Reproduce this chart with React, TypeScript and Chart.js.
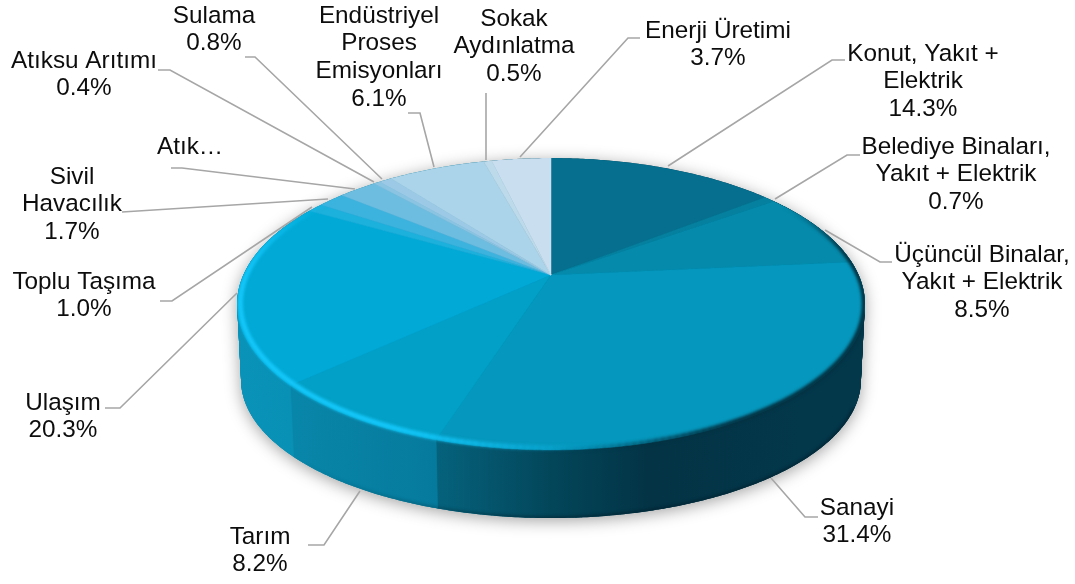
import React, { useEffect, useRef } from "react";
import { Chart, registerables } from "chart.js";

Chart.register(...registerables);

// ---- data ----
const categories = [
  "Konut, Yakıt + Elektrik",
  "Belediye Binaları, Yakıt + Elektrik",
  "Üçüncül Binalar, Yakıt + Elektrik",
  "Sanayi",
  "Tarım",
  "Ulaşım",
  "Toplu Taşıma",
  "Sivil Havacılık",
  "Atık…",
  "Atıksu Arıtımı",
  "Sulama",
  "Endüstriyel Proses Emisyonları",
  "Sokak Aydınlatma",
  "Enerji Üretimi",
];
const shares = [14.3, 0.7, 8.5, 31.4, 8.2, 20.3, 1.0, 1.7, 2.4, 0.4, 0.8, 6.1, 0.5, 3.7];
const shownShare = [true, true, true, true, true, true, true, true, false, true, true, true, true, true];
const labelLines = [
  ["Konut, Yakıt +", "Elektrik"],
  ["Belediye Binaları,", "Yakıt + Elektrik"],
  ["Üçüncül Binalar,", "Yakıt + Elektrik"],
  ["Sanayi"],
  ["Tarım"],
  ["Ulaşım"],
  ["Toplu Taşıma"],
  ["Sivil", "Havacılık"],
  ["Atık…"],
  ["Atıksu Arıtımı"],
  ["Sulama"],
  ["Endüstriyel", "Proses", "Emisyonları"],
  ["Sokak", "Aydınlatma"],
  ["Enerji Üretimi"],
];

// ---- styles ----
const faceColors = [
  "#066f8f", "#06809f", "#058aab", "#0597bd", "#02a0c6", "#00a9d6", "#1cb0dc",
  "#3cb3de", "#6dbde0", "#8ac4e2", "#9ccae6", "#abd3e9", "#bcdaea", "#c9deef",
];
const sideStops: Record<number, [number, string][]> = {
  2: [[800, "#033a4c"], [870, "#03465a"]],
  3: [[436, "#05627c"], [551, "#03465a"], [650, "#033345"], [800, "#03374a"]],
  4: [[291, "#0886a9"], [436, "#067a9c"]],
  5: [[237, "#0a93b9"], [291, "#0890b5"]],
};

// ---- layout ----
const FONT_SIZE = 24.3;
const LINE_H = 27.8;
const labelBoxes: [number, number][] = [
  [923, 54], [956, 147], [982, 255], [857, 508], [260, 537], [63, 403], [84, 282],
  [72, 177], [190, 147], [84, 61], [214, 16], [379, 16], [514, 19], [718, 31],
];
const leaders: [number, number][][] = [
  [[668, 166], [832, 60], [845, 60]],
  [[775, 199], [847, 155], [860, 155]],
  [[825, 230], [880, 262], [892, 262]],
  [[771, 478], [805, 517], [818, 517]],
  [[360, 491], [324, 545], [308, 545]],
  [[237, 293], [120, 408], [105, 408]],
  [[312, 207], [172, 301], [160, 301]],
  [[328, 199], [122, 212]],
  [[355, 189], [182, 168], [171, 168]],
  [[374, 182], [170, 70], [158, 70]],
  [[382, 179], [255, 57], [245, 57]],
  [[434, 167], [420, 113], [408, 113]],
  [[486, 160], [486, 93]],
  [[520, 157], [628, 38], [640, 38]],
];
const CX = 551;
const K = 0.1986;
const TOP = { y0: 275, a: 140.2, b: 307.7 };
const BOTTOM = { y0: 352.6, a: 132.6, b: 303.8 };
const TANGENT = Math.asin(K);

function project(theta: number, plane: { y0: number; a: number; b: number }, r = 1) {
  const X = r * Math.cos(theta);
  const Y = r * Math.sin(theta);
  const d = 1 - K * Y;
  return { x: CX + (plane.b * X) / d, y: plane.y0 + (plane.a * Y) / d };
}

function rimPath(ctx: CanvasRenderingContext2D, plane: typeof TOP, from: number, to: number, begin: boolean) {
  const steps = Math.max(2, Math.ceil(Math.abs(to - from) / 0.01));
  for (let i = 0; i <= steps; i++) {
    const p = project(from + ((to - from) * i) / steps, plane);
    if (i === 0 && begin) ctx.moveTo(p.x, p.y);
    else ctx.lineTo(p.x, p.y);
  }
}

// outline of the whole disc: far rim of the top face, near rim of the bottom face
function hullPath(ctx: CanvasRenderingContext2D) {
  ctx.beginPath();
  rimPath(ctx, TOP, Math.PI - TANGENT, 2 * Math.PI + TANGENT, true);
  rimPath(ctx, BOTTOM, TANGENT, Math.PI - TANGENT, false);
  ctx.closePath();
}

function edgeLayer(w: number, h: number, draw: (c: CanvasRenderingContext2D) => void) {
  const off = document.createElement("canvas");
  off.width = w;
  off.height = h;
  draw(off.getContext("2d")!);
  return off;
}

const pie3d = {
  id: "pie3d",
  beforeDatasetDraw(chart: any) {
    const ctx: CanvasRenderingContext2D = chart.ctx;
    const arcs = chart.getDatasetMeta(0).data;
    const colors = chart.data.datasets[0].backgroundColor as string[];
    ctx.save();

    // soft shadow on a base tinted like the wall
    ctx.save();
    const base = ctx.createLinearGradient(237, 0, 865, 0);
    base.addColorStop(0, "#0a93b9");
    base.addColorStop(0.35, "#067a9c");
    base.addColorStop(0.5, "#03465a");
    base.addColorStop(1, "#03374a");
    ctx.shadowColor = "rgba(0,0,0,0.36)";
    ctx.shadowBlur = 16;
    ctx.shadowOffsetY = 3;
    ctx.fillStyle = base;
    hullPath(ctx);
    ctx.fill();
    ctx.restore();

    ctx.save();
    hullPath(ctx);
    ctx.clip();

    // side wall, one generator strip at a time
    arcs.forEach((arc: any, i: number) => {
      const stops = sideStops[i];
      if (!stops) return;
      const g = ctx.createLinearGradient(stops[0][0], 0, stops[stops.length - 1][0], 0);
      const span = stops[stops.length - 1][0] - stops[0][0];
      stops.forEach(([x, c]) => g.addColorStop((x - stops[0][0]) / span, c));
      ctx.fillStyle = g;
      ctx.strokeStyle = g;
      ctx.lineWidth = 0.7;
      const n = Math.ceil((arc.endAngle - arc.startAngle) / 0.015);
      for (let s = 0; s < n; s++) {
        const t0 = arc.startAngle + ((arc.endAngle - arc.startAngle) * s) / n;
        const t1 = arc.startAngle + ((arc.endAngle - arc.startAngle) * (s + 1)) / n;
        const a = project(t0, TOP);
        const b = project(t1, TOP);
        const c = project(t1, BOTTOM);
        const d = project(t0, BOTTOM);
        ctx.beginPath();
        ctx.moveTo(a.x, a.y);
        ctx.lineTo(b.x, b.y);
        ctx.lineTo(c.x, c.y);
        ctx.lineTo(d.x, d.y);
        ctx.closePath();
        ctx.fill();
        ctx.stroke();
      }
    });

    // darker foot of the wall, fading towards the lit side
    const foot = edgeLayer(chart.width, chart.height, (c) => {
      const g = c.createLinearGradient(300, 0, 560, 0);
      g.addColorStop(0, "rgba(0,20,30,0)");
      g.addColorStop(1, "rgba(0,20,30,0.42)");
      c.strokeStyle = g;
      c.lineWidth = 4;
      c.beginPath();
      rimPath(c, BOTTOM, 0.4, 2.6, true);
      c.stroke();
    });
    ctx.filter = "blur(1.5px)";
    ctx.drawImage(foot, 0, 0);
    ctx.filter = "none";

    // top face
    arcs.forEach((arc: any, i: number) => {
      ctx.fillStyle = colors[i];
      ctx.strokeStyle = colors[i];
      ctx.lineWidth = 0.5;
      ctx.beginPath();
      ctx.moveTo(CX, TOP.y0);
      rimPath(ctx, TOP, arc.startAngle, arc.endAngle, false);
      ctx.closePath();
      ctx.fill();
      ctx.stroke();
    });

    // bevel: bright on the lit side, dark on the far side
    const step = 0.02;
    const smooth = (a: number, b: number, v: number) => {
      const t = Math.min(1, Math.max(0, (v - a) / (b - a)));
      return t * t * (3 - 2 * t);
    };
    const deg = (d: number) => (d * Math.PI) / 180;
    const bevel = edgeLayer(chart.width, chart.height, (c) => {
      c.lineCap = "butt";
      for (let t = -Math.PI / 2; t < (3 * Math.PI) / 2; t += step) {
        const lit = smooth(deg(78), deg(120), t) * (1 - smooth(deg(170), deg(222), t));
        if (lit > 0.01) {
          const p = project(t, TOP, 0.99);
          const q = project(t + step * 1.2, TOP, 0.99);
          c.strokeStyle = `rgba(20,200,250,${lit})`;
          c.lineWidth = 5;
          c.beginPath();
          c.moveTo(p.x, p.y);
          c.lineTo(q.x, q.y);
          c.stroke();
        }
        const dim = smooth(deg(-35), deg(-5), t) * (1 - smooth(deg(55), deg(92), t));
        if (dim > 0.01) {
          const p = project(t, TOP, 0.998);
          const q = project(t + step * 1.2, TOP, 0.998);
          c.strokeStyle = `rgba(3,50,66,${dim})`;
          c.lineWidth = 5;
          c.beginPath();
          c.moveTo(p.x, p.y);
          c.lineTo(q.x, q.y);
          c.stroke();
        }
      }
    });
    ctx.filter = "blur(1.6px)";
    ctx.drawImage(bevel, 0, 0);
    ctx.filter = "none";
    ctx.restore();

    ctx.restore();
    return false;
  },
  afterDraw(chart: any) {
    const ctx: CanvasRenderingContext2D = chart.ctx;
    ctx.save();
    ctx.strokeStyle = "#a6a6a6";
    ctx.lineWidth = 1.6;
    leaders.forEach((pts) => {
      ctx.beginPath();
      pts.forEach(([x, y], i) => (i ? ctx.lineTo(x, y) : ctx.moveTo(x, y)));
      ctx.stroke();
    });
    ctx.fillStyle = "#0d0d0d";
    ctx.textAlign = "center";
    ctx.textBaseline = "middle";
    ctx.font = `${FONT_SIZE}px "Liberation Sans"`;
    labelLines.forEach((lines, i) => {
      const all = shownShare[i] ? [...lines, `${shares[i].toFixed(1)}%`] : lines;
      const [x, y] = labelBoxes[i];
      all.forEach((t, j) => ctx.fillText(t, x, y + j * LINE_H));
    });
    ctx.restore();
  },
};

export default function App() {
  const ref = useRef<HTMLCanvasElement>(null);
  useEffect(() => {
    const chart = new Chart(ref.current!, {
      type: "pie",
      data: {
        labels: categories,
        datasets: [{ data: shares, backgroundColor: faceColors, borderWidth: 0 }],
      },
      options: {
        responsive: false,
        animation: false,
        plugins: { legend: { display: false }, tooltip: { enabled: false } },
      },
      plugins: [pie3d],
    } as any);
    return () => chart.destroy();
  }, []);
  return (
    <div style={{ position: "fixed", left: 0, top: 0, background: "#fff" }}>
      <canvas ref={ref} width={1075} height={584} style={{ display: "block" }} />
    </div>
  );
}
